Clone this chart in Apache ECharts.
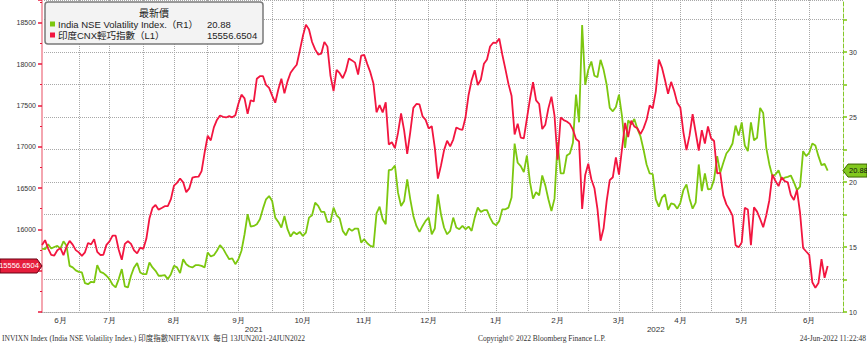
<!DOCTYPE html>
<html>
<head>
<meta charset="utf-8">
<script src="https://cdn.jsdelivr.net/npm/echarts@6/dist/echarts.min.js"></script>
<style>
  html, body { margin: 0; padding: 0; background: #fff; }
  #chart { width: 867px; height: 343px; }
</style>
</head>
<body>
<div id="chart"></div>
<script>
// trading calendar (NSE), 14 Jun 2021 .. 30 Jun 2022
const firstDay = '2021-06-14';
const lastDay = '2022-06-30';
const holidays = ['2021-07-21', '2021-08-19', '2021-09-10', '2021-10-15', '2021-11-05', '2021-11-19',
  '2022-01-26', '2022-03-01', '2022-03-18', '2022-04-14', '2022-04-15', '2022-05-03'];

// 印度CNX輕巧指數 (L1), one value per trading day
const niftyClose = [
  15811.85, 15869.25, 15767.55, 15691.4, 15683.35, 15746.5, 15772.75, 15686.95, 15790.45, 15860.35,
  15814.7, 15748.45, 15721.5, 15680, 15722.2, 15834.35, 15818.25, 15879.65, 15727.9, 15689.8,
  15692.6, 15812.35, 15853.95, 15924.2, 15923.4, 15752.4, 15632.1, 15824.05, 15856.05, 15824.45,
  15746.45, 15709.4, 15778.45, 15763.05, 15885.15, 16130.75, 16258.8, 16294.6, 16238.2, 16258.25,
  16280.1, 16282.25, 16364.4, 16529.1, 16563.05, 16614.6, 16568.85, 16450.5, 16496.45, 16624.6,
  16634.65, 16636.9, 16705.2, 16931.05, 17132.2, 17076.25, 17234.15, 17323.6, 17377.8, 17362.1,
  17353.5, 17369.25, 17355.3, 17380, 17519.45, 17629.5, 17585.15, 17396.9, 17562, 17546.65,
  17822.95, 17853.2, 17855.1, 17748.6, 17711.3, 17618.15, 17532.05, 17691.25, 17822.3, 17646,
  17790.35, 17895.2, 17945.95, 17991.95, 18161.75, 18338.55, 18477.05, 18418.75, 18266.6, 18178.1,
  18114.9, 18125.4, 18268.4, 18210.95, 17857.25, 17671.65, 17929.65, 17888.95, 17829.2, 17916.8,
  18068.55, 18044.25, 18017.2, 17873.6, 18102.75, 18109.45, 17999.2, 17898.65, 17764.8, 17416.55,
  17503.35, 17415.05, 17536.25, 17026.45, 17053.95, 16983.2, 17166.9, 17401.65, 17196.7, 16912.25,
  17176.7, 17469.75, 17516.85, 17511.3, 17368.25, 17324.9, 17221.4, 17248.4, 16985.2, 16614.2,
  16770.85, 16955.45, 17072.6, 17003.75, 17086.25, 17233.25, 17213.6, 17203.95, 17354.05, 17625.7,
  17805.25, 17925.25, 17745.9, 17812.7, 18003.3, 18055.75, 18212.35, 18257.8, 18255.75, 18308.1,
  18113.05, 17938.4, 17757, 17617.15, 17149.1, 17277.95, 17110.15, 17101.95, 17339.85, 17576.85,
  17780, 17560.2, 17516.3, 17213.6, 17266.75, 17463.8, 17605.85, 17374.75, 16842.8, 17352.45,
  17322.2, 17304.6, 17276.3, 17206.65, 17092.2, 17063.25, 16247.95, 16658.4, 16793.9, 16605.95,
  16498.05, 16245.35, 15863.15, 16013.45, 16345.35, 16594.9, 16630.45, 16871.3, 16663, 16975.35,
  17287.05, 17117.6, 17315.5, 17245.65, 17222.75, 17153, 17222, 17325.3, 17498.25, 17464.75,
  17670.45, 18053.4, 17957.4, 17807.65, 17639.55, 17784.35, 17674.95, 17530.3, 17475.65, 17173.65,
  16958.65, 17136.55, 17392.6, 17171.95, 16953.95, 17200.8, 17038.4, 17245.05, 17102.55, 17069.1,
  16677.6, 16682.65, 16411.25, 16301.85, 16240.05, 16167.1, 15808, 15782.15, 15842.3, 16259.3,
  16240.3, 15809.4, 16266.15, 16214.7, 16125.15, 16025.8, 16170.15, 16352.45, 16661.4, 16584.55,
  16522.75, 16628, 16584.3, 16569.55, 16416.35, 16356.25, 16478.1, 16201.8, 15774.4, 15732.1,
  15692.15, 15360.6, 15293.5, 15350.15, 15638.8, 15413.3, 15556.6504
];

// India NSE Volatility Index. (R1), one value per trading day
const vixClose = [
  14.88, 14.83, 15.21, 14.88, 15.0, 15.09, 14.88, 15.44, 15.09, 13.55,
  13.43, 13.2, 13.09, 13.04, 12.22, 12.14, 12.32, 12.27, 13.6, 13.09,
  12.99, 12.79, 12.53, 12.1, 11.89, 12.53, 13.3, 11.97, 11.89, 12.79,
  13.43, 13.76, 13.04, 12.91, 12.91, 13.81, 13.43, 13.17, 12.79, 12.79,
  12.84, 12.53, 12.91, 13.55, 13.43, 12.99, 14.06, 13.68, 13.5, 13.43,
  13.6, 13.6, 13.55, 13.43, 14.58, 14.27, 14.37, 14.71, 15.14, 14.88,
  14.45, 14.06, 14.12, 13.68, 14.06, 14.71, 15.98, 17.52, 16.57, 16.62,
  16.75, 17.13, 17.95, 18.67, 18.92, 18.54, 17.26, 16.93, 16.5, 17.39,
  16.37, 15.8, 16.16, 15.98, 16.16, 15.85, 16.11, 17.26, 17.44, 18.41,
  18.16, 17.7, 17.7, 16.93, 16.93, 18.03, 17.44, 17.2, 16.24, 15.9,
  16.42, 16.24, 16.42, 16.42, 15.34, 15.6, 15.29, 15.09, 15.01, 17.59,
  18.1, 17.13, 16.75, 20.91, 20.96, 21.27, 19.18, 18.15, 18.54, 20.2,
  18.67, 17.39, 16.62, 16.16, 16.62, 17.01, 17.26, 15.98, 16.42, 19.05,
  17.52, 16.5, 15.98, 16.24, 17.26, 16.5, 16.37, 16.62, 16.37, 16.57,
  16.24, 17.26, 18.03, 17.7, 17.83, 17.83, 17.26, 16.82, 16.67, 17.01,
  17.9, 17.9, 18.03, 18.8, 22.96, 21.48, 21.22, 20.76, 22.04, 19.99,
  18.72, 19.23, 18.98, 20.5, 19.74, 18.67, 17.77, 18.72, 23.06, 20.66,
  20.66, 22.04, 22.2, 23.01, 26.72, 24.59, 32.08, 27.48, 28.63, 29.27,
  28.17, 28.07, 29.4, 28.63, 27.48, 25.7, 25.44, 25.77, 26.72, 25.05,
  22.63, 24.75, 24.42, 24.85, 24.09, 23.52, 22.5, 21.35, 20.66, 20.61,
  18.67, 18.1, 18.8, 19.05, 17.85, 18.36, 18.28, 17.95, 18.4, 19.38,
  19.82, 18.72, 17.95, 18.41, 21.35, 19.3, 20.66, 19.43, 19.48, 20.2,
  21.99, 20.71, 21.48, 22.19, 22.5, 22.96, 24.34, 23.57, 24.59, 22.81,
  22.37, 24.59, 23.21, 23.4, 25.7, 25.31, 22.63, 21.35, 20.45, 20.58,
  20.91, 20.2, 20.33, 20.4, 20.5, 19.99, 19.38, 19.64, 22.37, 21.99,
  22.25, 22.96, 22.81, 21.99, 21.3, 21.4, 20.88
];

const vixName = 'India NSE Volatility Index.（R1）';
const niftyName = '印度CNX輕巧指數（L1）';
const footerLeft = 'INVIXN Index (India NSE Volatility Index.) 印度指數NIFTY&VIX  每日 13JUN2021-24JUN2022';
const footerMid = 'Copyright© 2022 Bloomberg Finance L.P.';
const footerRight = '24-Jun-2022 11:22:48';

const GREEN = '#7cc70f';
const RED = '#f2153f';

function buildDays() {
  const out = [];
  const d = new Date(firstDay + 'T00:00:00Z');
  const end = new Date(lastDay + 'T00:00:00Z');
  while (d <= end) {
    const wd = d.getUTCDay();
    const s = d.toISOString().slice(0, 10);
    if (wd !== 0 && wd !== 6 && holidays.indexOf(s) < 0) out.push(s);
    d.setUTCDate(d.getUTCDate() + 1);
  }
  return out;
}
const days = buildDays();

// month ends, mid-month positions, mid-year positions
const gridIdx = new Set();
const labelIdx = new Set();
let start = 0;
let first = true;
for (let i = 0; i < days.length; i++) {
  const last = i === days.length - 1 || days[i + 1].slice(0, 7) !== days[i].slice(0, 7);
  if (last) {
    const a = start === 0 ? 0 : start - 1;
    const mid = Math.floor((a + i) / 2);
    labelIdx.add(mid);
    if (!first) gridIdx.add(mid);
    if (i < days.length - 1) gridIdx.add(i);
    first = false;
    start = i + 1;
  }
}
const yearIdx = new Set();
let ys = 0;
for (let i = 0; i < days.length; i++) {
  if (i === days.length - 1 || days[i + 1].slice(0, 4) !== days[i].slice(0, 4)) {
    yearIdx.add(Math.floor((ys + i) / 2));
    ys = i + 1;
  }
}

const dotted = { type: 'dotted', color: '#a8a8a8', width: 1 };

const chart = echarts.init(document.getElementById('chart'), null, { renderer: 'svg' });
chart.setOption({
  animation: false,
  backgroundColor: '#fff',
  grid: { left: 42, right: 24, top: 0, bottom: 31 },
  xAxis: [
    {
      type: 'category',
      data: days,
      boundaryGap: false,
      axisLine: { show: true, lineStyle: dotted },
      axisTick: { show: false },
      splitLine: { show: true, interval: (i) => gridIdx.has(i), lineStyle: dotted },
      axisLabel: {
        interval: (i) => labelIdx.has(i),
        formatter: (v) => parseInt(v.slice(5, 7), 10) + '月',
        fontSize: 8, color: '#333', margin: 4, fontFamily: 'Liberation Sans'
      }
    },
    {
      type: 'category',
      data: days,
      boundaryGap: false,
      position: 'bottom',
      offset: 9,
      axisLine: { show: false },
      axisTick: { show: false },
      splitLine: { show: false },
      axisLabel: {
        interval: (i) => yearIdx.has(i),
        formatter: (v) => v.slice(0, 4),
        fontSize: 8, color: '#333', margin: 4, fontFamily: 'Liberation Sans'
      }
    }
  ],
  yAxis: [
    {
      type: 'value',
      position: 'left',
      min: 15000, max: 18775, interval: 500,
      axisLine: { show: true, lineStyle: { color: '#f4a6b0', width: 2 } },
      axisTick: { show: true, length: 4, lineStyle: { color: '#e8193c', width: 1.5 } },
      minorTick: { show: true, splitNumber: 2, length: 2, lineStyle: { color: '#e8193c' } },
      splitLine: { show: false },
      axisLabel: {
        fontSize: 7, color: '#333', margin: 6, showMaxLabel: false, showMinLabel: false,
        fontFamily: 'Liberation Sans', formatter: (v) => String(v)
      }
    },
    {
      type: 'value',
      position: 'right',
      min: 10, max: 34, interval: 2.5,
      axisLine: { show: true, lineStyle: { color: '#86c72a', type: 'dashed', width: 1 } },
      axisTick: { show: true, length: 4, lineStyle: { color: '#7cc70f', width: 1.5 } },
      splitLine: { show: true, lineStyle: dotted },
      axisLabel: {
        fontSize: 7, color: '#333', margin: 6, showMaxLabel: false, fontFamily: 'Liberation Sans',
        formatter: (v) => (v % 5 === 0 ? String(v) : '')
      }
    }
  ],
  series: [
    {
      name: vixName, type: 'line', xAxisIndex: 0, yAxisIndex: 1, data: vixClose,
      symbol: 'none', lineStyle: { color: GREEN, width: 1.8 }, z: 2
    },
    {
      name: niftyName, type: 'line', xAxisIndex: 0, yAxisIndex: 0, data: niftyClose,
      symbol: 'none', lineStyle: { color: RED, width: 1.8 }, z: 3
    }
  ]
});

// legend box, last-value tags and footer
const lastV = vixClose[vixClose.length - 1];
const lastN = niftyClose[niftyClose.length - 1];
const yV = chart.convertToPixel({ yAxisIndex: 1 }, lastV);
const yN = chart.convertToPixel({ yAxisIndex: 0 }, lastN);
const txt = (text, x, y, size, fam, align, color) => ({
  type: 'text', x: x, y: y, z: 100,
  style: { text: text, fontSize: size, fontFamily: fam, fill: color || '#222', textAlign: align || 'left', textVerticalAlign: 'middle' }
});

chart.setOption({
  graphic: [
    { type: 'rect', z: 99, shape: { x: 45, y: 2, width: 218, height: 42, r: 3 },
      style: { fill: '#f3f3f3', stroke: '#7a7a7a', lineWidth: 1.5 } },
    txt('最新價', 154, 12, 10, 'Noto Sans CJK TC', 'center'),
    { type: 'rect', z: 100, shape: { x: 50, y: 21.5, width: 5, height: 5 }, style: { fill: GREEN } },
    txt(vixName, 58, 24.5, 9.5, 'Liberation Sans, Noto Sans CJK TC'),
    txt(lastV.toFixed(2), 207, 24.5, 9.5, 'Liberation Sans'),
    { type: 'rect', z: 100, shape: { x: 50, y: 32.5, width: 5, height: 5 }, style: { fill: RED } },
    txt(niftyName, 58, 35.5, 9.5, 'Liberation Sans, Noto Sans CJK TC'),
    txt(lastN.toFixed(4), 207, 35.5, 9.5, 'Liberation Sans'),

    { type: 'polygon', z: 100,
      shape: { points: [[0, yN - 7], [37, yN - 7], [42, yN], [37, yN + 7], [0, yN + 7]] },
      style: { fill: '#e61e3c', stroke: '#6a0014', lineWidth: 1 } },
    txt(lastN.toFixed(4), 19, yN, 7.5, 'Liberation Sans', 'center', '#fff'),
    { type: 'polygon', z: 100,
      shape: { points: [[843, yV], [848, yV - 6.5], [867, yV - 6.5], [867, yV + 6.5], [848, yV + 6.5]] },
      style: { fill: '#82c81e', stroke: '#3d6600', lineWidth: 1 } },
    txt(lastV.toFixed(2), 849, yV, 7.5, 'Liberation Sans', 'left', '#111'),

    txt(footerLeft, 2, 338, 7.5, 'Liberation Serif, Noto Sans CJK TC', 'left', '#333'),
    txt(footerMid, 478, 338, 7.5, 'Liberation Serif', 'left', '#333'),
    txt(footerRight, 866, 338, 7.5, 'Liberation Serif', 'right', '#333')
  ]
});

window.onresize = function () {
  chart.resize();
};
</script>
</body>
</html>
